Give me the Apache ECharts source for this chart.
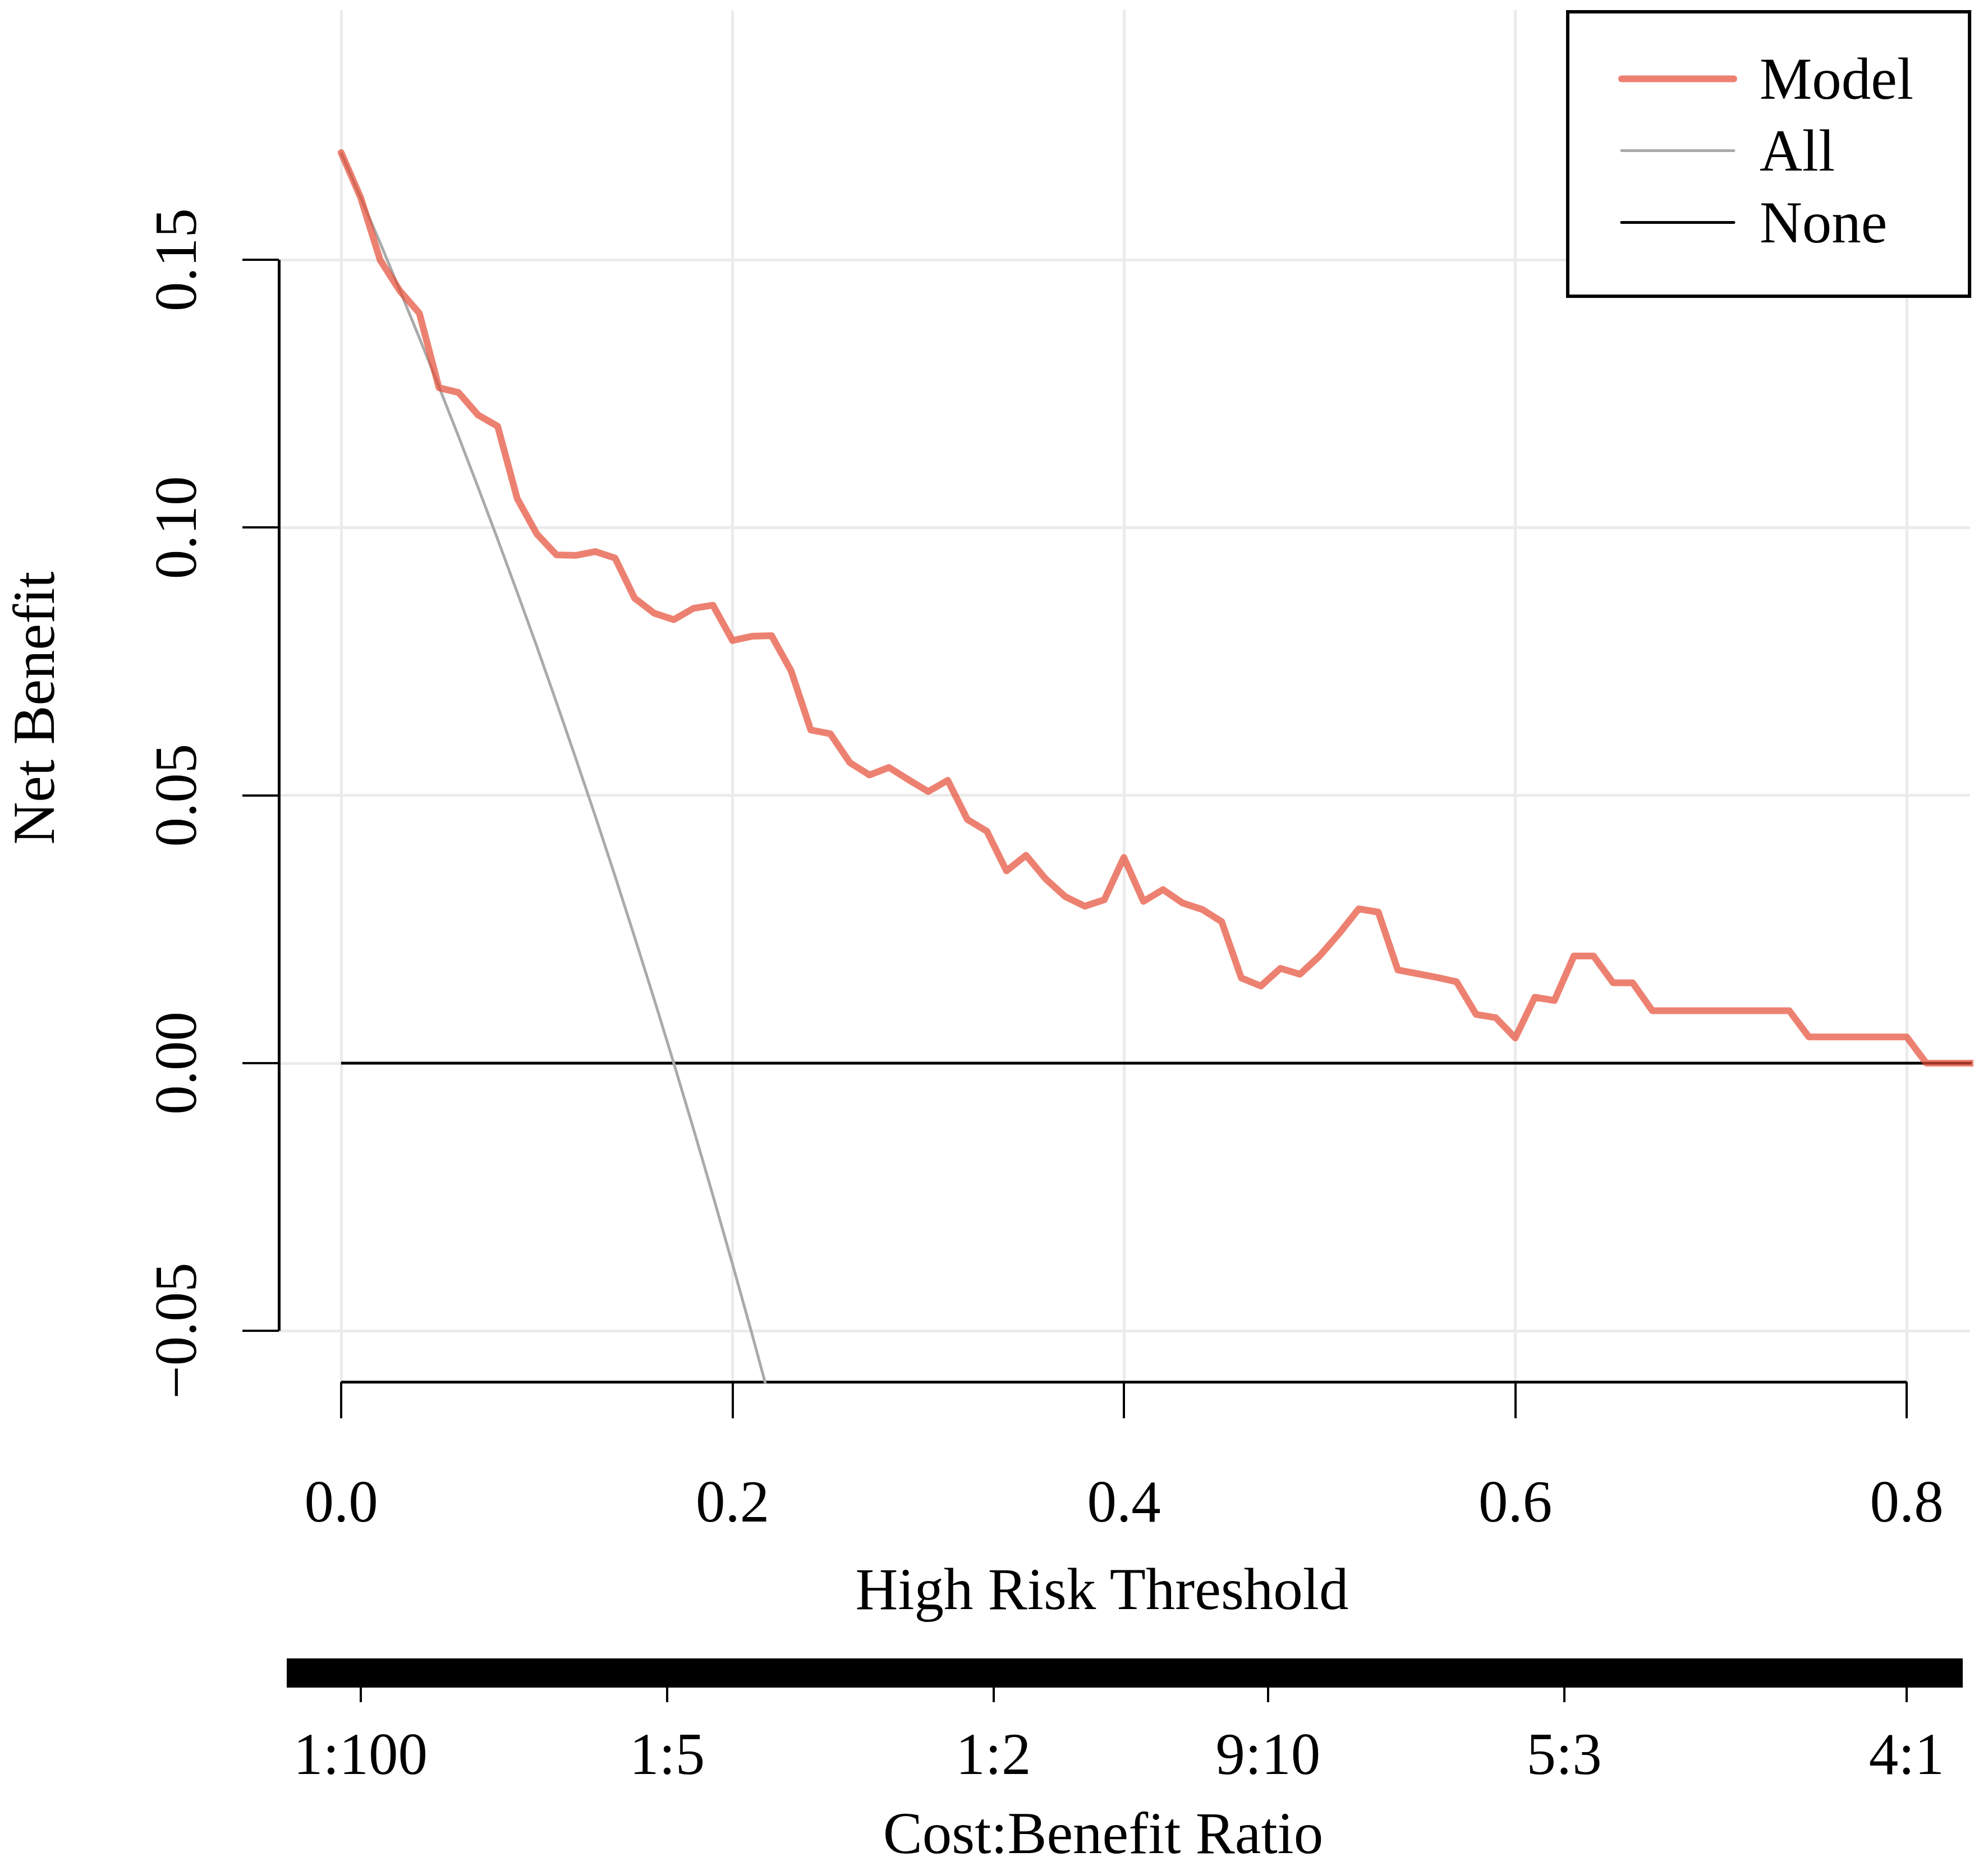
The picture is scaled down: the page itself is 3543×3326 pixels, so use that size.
<!DOCTYPE html>
<html>
<head>
<meta charset="utf-8">
<script src="https://cdn.jsdelivr.net/npm/echarts@6/dist/echarts.min.js"></script>
<style>
html,body{margin:0;padding:0;background:#ffffff;}
#chart{width:3543px;height:3326px;}
</style>
</head>
<body>
<div id="chart"></div>
<script>
// ---- data ----
const thresholds = [0.00,0.01,0.02,0.03,0.04,0.05,0.06,0.07,0.08,0.09,
  0.10,0.11,0.12,0.13,0.14,0.15,0.16,0.17,0.18,0.19,
  0.20,0.21,0.22,0.23,0.24,0.25,0.26,0.27,0.28,0.29,
  0.30,0.31,0.32,0.33,0.34,0.35,0.36,0.37,0.38,0.39,
  0.40,0.41,0.42,0.43,0.44,0.45,0.46,0.47,0.48,0.49,
  0.50,0.51,0.52,0.53,0.54,0.55,0.56,0.57,0.58,0.59,
  0.60,0.61,0.62,0.63,0.64,0.65,0.66,0.67,0.68,0.69,
  0.70,0.71,0.72,0.73,0.74,0.75,0.76,0.77,0.78,0.79,
  0.80,0.81,0.82,0.83,0.84];
const modelNB = [0.1700,0.1616,0.1499,0.1442,0.1400,0.1261,0.1252,0.1210,0.1189,0.1054,
  0.0988,0.0949,0.0948,0.0955,0.0943,0.0868,0.0840,0.0828,0.0849,0.0855,
  0.0789,0.0797,0.0798,0.0732,0.0622,0.0615,0.0561,0.0538,0.0552,0.0529,
  0.0507,0.0528,0.0455,0.0433,0.0359,0.0388,0.0344,0.0311,0.0293,0.0305,
  0.0384,0.0302,0.0324,0.0299,0.0287,0.0264,0.0159,0.0144,0.0177,0.0166,
  0.0200,0.0242,0.0288,0.0282,0.0174,0.0167,0.0160,0.0152,0.0091,0.0085,
  0.0047,0.0123,0.0117,0.0200,0.0200,0.0150,0.0150,0.0098,0.0098,0.0098,
  0.0098,0.0098,0.0098,0.0098,0.0098,0.0049,0.0049,0.0049,0.0049,0.0049,
  0.0049,0.0000,0.0000,0.0000,0.0000];
const allThresholds = [0.00,0.01,0.02,0.03,0.04,0.05,0.06,0.07,0.08,0.09,
  0.10,0.11,0.12,0.13,0.14,0.15,0.16,0.17,0.18,0.19,0.20,0.21,0.22];
const allNB = [0.1700,0.1616,0.1531,0.1443,0.1354,0.1263,0.1170,0.1075,0.0978,0.0879,
  0.0778,0.0674,0.0568,0.0460,0.0349,0.0235,0.0119,0.0000,-0.0122,-0.0247,
  -0.0375,-0.0506,-0.0641];
const noneNB = [0,0,0,0,0,0,0,0,0,0,0,0,0,0,0,0,0,0,0,0,0,0,0,0,0,0,0,0,0,0,
  0,0,0,0,0,0,0,0,0,0,0,0,0,0,0,0,0,0,0,0,0,0,0,0,0,0,0,0,0,0,
  0,0,0,0,0,0,0,0,0,0,0,0,0,0,0,0,0,0,0,0,0,0,0,0,0];
const seriesNames = ["Model","All","None"];
const xTickValues = [0.0,0.2,0.4,0.6,0.8];
const xTickLabels = ["0.0","0.2","0.4","0.6","0.8"];
const yTickValues = [-0.05,0.00,0.05,0.10,0.15];
const yTickLabels = ["\u22120.05","0.00","0.05","0.10","0.15"];
const costParts = [1,1,1,9,5,4];
const benefitParts = [100,5,2,10,3,1];
const costBenefitLabels = ["1:100","1:5","1:2","9:10","5:3","4:1"];
const xTitle = "High Risk Threshold";
const yTitle = "Net Benefit";
const cbTitle = "Cost:Benefit Ratio";

// ---- build ----
const FONT = "Liberation Serif";
const FS = 105;
const zip = (xs, ys) => xs.map((x, i) => [x, ys[i]]);
const cbValues = costParts.map((c, i) => c / (c + benefitParts[i]));
const nearestLabel = (vals, labels, v) => {
  let best = 0;
  vals.forEach((t, i) => { if (Math.abs(t - v) < Math.abs(vals[best] - v)) best = i; });
  return labels[best];
};

const chart = echarts.init(document.getElementById('chart'), null, {renderer: 'svg', width: 3543, height: 3326});

const option = {
  animation: false,
  backgroundColor: '#ffffff',
  grid: [
    // 0: data region
    {left: 497, right: 32, top: 18, bottom: 863, containLabel: false},
    // 1: horizontal grid lines + y axis
    {left: 497, right: 32, top: 463, bottom: 954, containLabel: false},
    // 2: vertical grid lines + x axis
    {left: 608, right: 145, top: 18, bottom: 863, containLabel: false},
    // 3: cost:benefit axis
    {left: 511, right: 45, top: 2900, bottom: 344, containLabel: false}
  ],
  xAxis: [
    {gridIndex: 0, type: 'value', min: -0.0318, max: 0.8324, show: false},
    {gridIndex: 1, type: 'value', min: 0, max: 1, show: false},
    {gridIndex: 2, type: 'value', min: 0, max: 0.8, interval: 0.2,
      axisLine: {show: true, onZero: false, lineStyle: {color: '#000', width: 5, cap: 'butt'}},
      axisTick: {show: true, length: 65, lineStyle: {color: '#000', width: 4}},
      axisLabel: {show: true, margin: 213, verticalAlign: 'middle', color: '#000',
        fontFamily: FONT, fontSize: FS,
        formatter: v => nearestLabel(xTickValues, xTickLabels, v)},
      splitLine: {show: true, lineStyle: {color: '#EBEBEB', width: 5}}
    },
    {gridIndex: 3, type: 'value', min: -0.0278, max: 0.8287,
      axisLine: {show: true, onZero: false, lineStyle: {color: '#000', width: 52, cap: 'butt'}},
      axisTick: {show: true, length: 52, customValues: cbValues, lineStyle: {color: '#000', width: 4}},
      axisLabel: {show: true, margin: 144, verticalAlign: 'middle', color: '#000',
        fontFamily: FONT, fontSize: FS, customValues: cbValues,
        formatter: v => nearestLabel(cbValues, costBenefitLabels, v)},
      splitLine: {show: false}
    }
  ],
  yAxis: [
    {gridIndex: 0, type: 'value', min: -0.0595, max: 0.1966, show: false},
    {gridIndex: 1, type: 'value', min: -0.05, max: 0.15, interval: 0.05,
      axisLine: {show: true, onZero: false, lineStyle: {color: '#000', width: 5, cap: 'butt'}},
      axisTick: {show: true, length: 65, lineStyle: {color: '#000', width: 4}},
      axisLabel: {show: true, rotate: 90, margin: 184, verticalAlign: 'middle', align: 'center',
        color: '#000', fontFamily: FONT, fontSize: FS,
        formatter: v => nearestLabel(yTickValues, yTickLabels, v)},
      splitLine: {show: true, lineStyle: {color: '#EBEBEB', width: 5}}
    },
    {gridIndex: 2, type: 'value', min: 0, max: 1, show: false},
    {gridIndex: 3, type: 'value', min: 0, max: 1, show: false}
  ],
  legend: {
    orient: 'vertical',
    left: 2794, top: 21,
    padding: [67, 100, 79, 90],
    itemWidth: 200, itemHeight: 110, itemGap: 23,
    borderColor: '#000', borderWidth: 6,
    backgroundColor: '#fff',
    selectedMode: false,
    textStyle: {fontFamily: FONT, fontSize: FS, color: '#000', padding: [0, 0, 0, 41]},
    data: [
      {name: seriesNames[0], lineStyle: {width: 12, cap: 'round', color: 'rgba(230,75,53,0.7)'}, itemStyle: {opacity: 0}},
      {name: seriesNames[1], lineStyle: {width: 5, cap: 'round', color: '#AAAAAA'}, itemStyle: {opacity: 0}},
      {name: seriesNames[2], lineStyle: {width: 5, cap: 'round', color: '#000000'}, itemStyle: {opacity: 0}}
    ]
  },
  graphic: [
    {type: 'text', x: 1964, y: 2832, silent: true,
      style: {text: xTitle, font: FS + 'px "' + FONT + '"', fill: '#000', align: 'center', verticalAlign: 'middle'}},
    {type: 'text', x: 1966, y: 3267, silent: true,
      style: {text: cbTitle, font: FS + 'px "' + FONT + '"', fill: '#000', align: 'center', verticalAlign: 'middle'}},
    {type: 'text', x: 60, y: 1262, rotation: Math.PI / 2, silent: true,
      style: {text: yTitle, font: FS + 'px "' + FONT + '"', fill: '#000', align: 'center', verticalAlign: 'middle'}}
  ],
  series: [
    {name: seriesNames[2], type: 'line', xAxisIndex: 0, yAxisIndex: 0, data: zip(thresholds, noneNB),
      symbol: 'none', clip: true, z: 3,
      lineStyle: {color: '#000000', width: 5}, itemStyle: {color: '#000000'}},
    {name: seriesNames[1], type: 'line', xAxisIndex: 0, yAxisIndex: 0, data: zip(allThresholds, allNB),
      symbol: 'none', clip: true, z: 4,
      lineStyle: {color: '#AAAAAA', width: 5}, itemStyle: {color: '#AAAAAA'}},
    {name: seriesNames[0], type: 'line', xAxisIndex: 0, yAxisIndex: 0, data: zip(thresholds, modelNB),
      symbol: 'none', clip: true, z: 5,
      lineStyle: {color: 'rgba(230,75,53,0.7)', width: 12, join: 'round', cap: 'round'},
      itemStyle: {color: 'rgba(230,75,53,0.7)'}}
  ]
};
chart.setOption(option);
</script>
</body>
</html>
